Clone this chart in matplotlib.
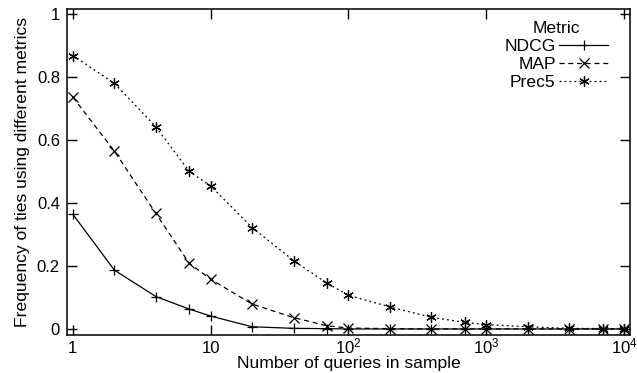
import matplotlib
matplotlib.use("Agg")
import matplotlib.pyplot as plt
from matplotlib.ticker import FixedLocator, FixedFormatter, NullLocator

plt.rcParams['font.family'] = ['Liberation Sans', 'DejaVu Sans']
plt.rcParams['mathtext.fontset'] = 'custom'
plt.rcParams['mathtext.rm'] = 'Liberation Sans'
plt.rcParams['mathtext.it'] = 'Liberation Sans:italic'

queries = [1, 2, 4, 7, 10, 20, 40, 70, 100, 200, 400, 700, 1000, 2000, 4000, 7000, 10000]
ndcg = [0.364, 0.187, 0.103, 0.063, 0.041, 0.007, 0.002, 0.001, 0.0, 0.0, 0.0, 0.0, 0.0, 0.0, 0.0, 0.0, 0.0]
map_ = [0.736, 0.565, 0.367, 0.208, 0.158, 0.079, 0.036, 0.010, 0.003, 0.001, 0.0, 0.0, 0.0, 0.0, 0.0, 0.0, 0.0]
prec5 = [0.868, 0.780, 0.642, 0.500, 0.454, 0.322, 0.217, 0.145, 0.107, 0.070, 0.037, 0.021, 0.014, 0.007, 0.002, 0.001, 0.0]

xticks = [1, 10, 100, 1000, 10000]
xticklabels = ['1', '10', '$10^2$', '$10^3$', '$10^4$']
yticks = [0, 0.2, 0.4, 0.6, 0.8, 1]
yticklabels = ['0', '0.2', '0.4', '0.6', '0.8', '1']

fig = plt.figure(figsize=(6.37, 3.73), dpi=100)
ax = fig.add_axes([0.105, 0.102, 0.884, 0.874])

ax.plot(queries, ndcg, color='black', lw=0.9, ls='-', marker='+', ms=7.5, mew=0.9, label='NDCG')
ax.plot(queries, map_, color='black', lw=0.9, ls=(0, (4, 3)), marker='x', ms=6.5, mew=0.9, label='MAP')
ax.plot(queries, prec5, color='black', lw=0.9, ls=(0, (1.5, 2.5)), marker=(6, 2, 0), ms=7.5, mew=0.9, label='Prec5')

ax.set_xscale('log')
ax.set_xlim(0.905, 10 ** 4.043)
ax.set_ylim(-0.019, 1.016)
ax.xaxis.set_major_locator(FixedLocator(xticks))
ax.xaxis.set_major_formatter(FixedFormatter(xticklabels))
ax.xaxis.set_minor_locator(NullLocator())
ax.yaxis.set_major_locator(FixedLocator(yticks))
ax.yaxis.set_major_formatter(FixedFormatter(yticklabels))
ax.tick_params(direction='in', length=7, width=1, top=True, right=True, labelsize=12, pad=5)
ax.tick_params(axis='x', pad=13)
for lbl in ax.get_xticklabels():
    lbl.set_verticalalignment('baseline')
for s in ax.spines.values():
    s.set_linewidth(1.1)

ax.set_xlabel('Number of queries in sample', fontsize=12.6, labelpad=0)
ax.set_ylabel('Frequency of ties using different metrics', fontsize=12.6, labelpad=5)

leg = ax.legend(title='Metric', loc='upper right', bbox_to_anchor=(0.98, 0.995), frameon=False,
                markerfirst=False, fontsize=12.6, title_fontsize=12.6, handlelength=2.8,
                handletextpad=0.2, labelspacing=0.15, borderaxespad=0.2)

fig.savefig('out.png', dpi=100)
